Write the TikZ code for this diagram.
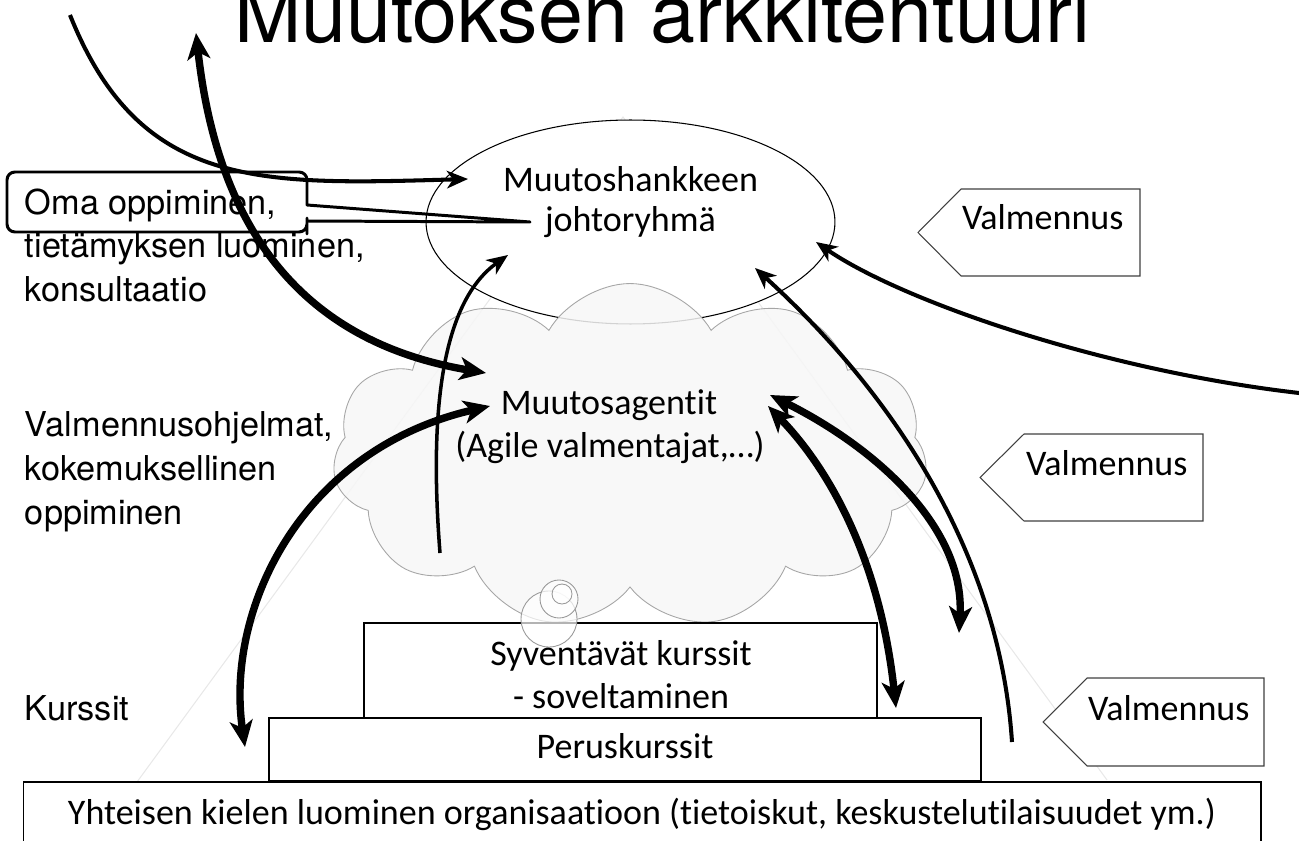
\documentclass[tikz,border=0pt]{standalone}
\usepackage{fontspec}
\setmainfont{Carlito}[Ligatures=NoCommon]
\newfontfamily\hel{TeX Gyre Heros}
\usetikzlibrary{arrows.meta,shapes.geometric,shapes.symbols,shadows}
\begin{document}
\begin{tikzpicture}[x=0.02cm,y=-0.02cm,
  every node/.style={inner sep=0pt, outer sep=0pt},
  gill/.style={font=\fontsize{20.5}{24}\selectfont, anchor=base},
  lbl/.style={font=\hel\fontsize{19.5}{23}\selectfont, anchor=base west},
  boxstyle/.style={draw=black, line width=0.7pt, fill=white,
     drop shadow={opacity=0.25,shadow xshift=0.8pt,shadow yshift=-1.2pt}},
  tagstyle/.style={draw=black!75, line width=0.6pt, fill=white},
  bubble/.style={circle, draw=black!40, line width=0.5pt, fill=white, fill opacity=0.7},
  thinarrow/.style={line width=2.3pt, -{Stealth[length=12pt,width=10pt,inset=3.5pt]}},
  heavyarrow/.style={line width=4.2pt, {Stealth[length=15pt,width=13pt,inset=4pt]}-{Stealth[length=15pt,width=13pt,inset=4pt]}}
]
\clip (0,0) rectangle (1299,841);
\useasboundingbox (0,0) rectangle (1299,841);

% faint background pyramid
\draw[black!9, line width=0.6pt] (137,782) -- (623,117) -- (1107,780);

% leadership ellipse
\node[ellipse, draw, line width=0.6pt, fill=white, minimum width=8.18cm, minimum height=4.08cm] (lead) at (630.5,222) {};

% left labels
\node[lbl] (l1) at (25,215) {Oma oppiminen,};
\node[lbl] (l2) at (25,258) {tietämyksen luominen,};
\node[lbl] (l3) at (25,302) {konsultaatio};
\node[lbl] (l4) at (25,437) {Valmennusohjelmat,};
\node[lbl] (l5) at (25,480) {kokemuksellinen};
\node[lbl] (l6) at (25,524) {oppiminen};
\node[lbl] (l7) at (25,720) {Kurssit};

% cloud of change agents
\node[cloud, cloud puffs=11, cloud puff arc=120, cloud ignores aspect, draw=black!35, line width=0.5pt,
      fill=black!3, fill opacity=0.85, minimum width=11.9cm, minimum height=6.9cm] (agents) at (630,456) {};

% course boxes
\node[boxstyle, minimum width=10.26cm, minimum height=1.9cm] (syv) at (620.5,670.5) {};
\node[boxstyle, minimum width=14.24cm, minimum height=1.26cm] (perus) at (625,749.5) {};
\node[boxstyle, minimum width=24.76cm, minimum height=1.96cm] (yht) at (642,831) {};

% thought bubbles
\node[bubble, minimum size=1.12cm] (bub1) at (549,619) {};
\node[bubble, minimum size=0.76cm] (bub2) at (559,599) {};
\node[bubble, minimum size=0.4cm] (bub3) at (562,594) {};

% texts in shapes
\node[gill] (leadA) at (630.5,192) {Muutoshankkeen};
\node[gill] (leadB) at (630.5,232) {johtoryhmä};
\node[gill] (agA) at (609,415) {Muutosagentit};
\node[gill] (agB) at (610,458) {(Agile valmentajat,…)};
\node[gill] (syvA) at (621,665) {Syventävät kurssit};
\node[gill] (syvB) at (621,708) {- soveltaminen};
\node[gill] (perusT) at (625,758) {Peruskurssit};
\node[gill] (yhtT) at (642,824) {Yhteisen kielen luominen organisaatioon (tietoiskut, keskustelutilaisuudet ym.)};

% Valmennus tags
\draw[tagstyle] (918,232.5) -- (961,189) -- (1140,189) -- (1140,276) -- (961,276) -- cycle;
\draw[tagstyle] (980,477.5) -- (1024,434) -- (1203,434) -- (1203,521) -- (1024,521) -- cycle;
\draw[tagstyle] (1043,722) -- (1087,678) -- (1264,678) -- (1264,766) -- (1087,766) -- cycle;
\node[gill, anchor=base west] (val1) at (962,230) {Valmennus};
\node[gill, anchor=base west] (val2) at (1026,475) {Valmennus};
\node[gill, anchor=base west] (val3) at (1088,720) {Valmennus};

% callout box
\coordinate (calltip) at (530,222);
\draw[line width=1.7pt, line join=round] (307,205) [rounded corners=4.5pt] -- (307,172) -- (7,172) -- (7,232) -- (307,232) -- (307,226) [sharp corners] -- (307,221) -- (calltip) -- cycle;

% connector end points
\coordinate (a1s) at (70,15);    \coordinate (a1e) at (468,179);
\coordinate (a2s) at (196,33);   \coordinate (a2e) at (486,373);
\coordinate (a4s) at (440,553);  \coordinate (a4e) at (508,255);
\coordinate (a5s) at (1012,742); \coordinate (a5e) at (755,268);
\coordinate (a6s) at (770,395);  \coordinate (a6e) at (959,633);
\coordinate (a7s) at (768,406);  \coordinate (a7e) at (896,708);
\coordinate (a8s) at (245,747);  \coordinate (a8e) at (490,406);
\coordinate (a9s) at (1299,393); \coordinate (a9e) at (816,242);

\draw[thinarrow] (a1s) .. controls (140,190) and (260,185) .. (a1e);
\draw[heavyarrow] (a2s) .. controls (220,250) and (320,345) .. (a2e);
\draw[thinarrow, line width=2pt] (a4s) .. controls (428,400) and (445,300) .. (a4e);
\draw[thinarrow] (a5s) .. controls (1000,560) and (900,400) .. (a5e);
\draw[heavyarrow] (a6s) .. controls (880,450) and (965,530) .. (a6e);
\draw[heavyarrow] (a7s) .. controls (830,470) and (880,560) .. (a7e);
\draw[heavyarrow] (a8s) .. controls (225,610) and (300,450) .. (a8e);
\draw[thinarrow] (a9s) .. controls (1100,370) and (900,300) .. (a9e);

% title
\node[font=\hel\fontsize{46}{50}\selectfont, anchor=base west] (title) at (234,43) {Muutoksen arkkitehtuuri};
\end{tikzpicture}
\end{document}
